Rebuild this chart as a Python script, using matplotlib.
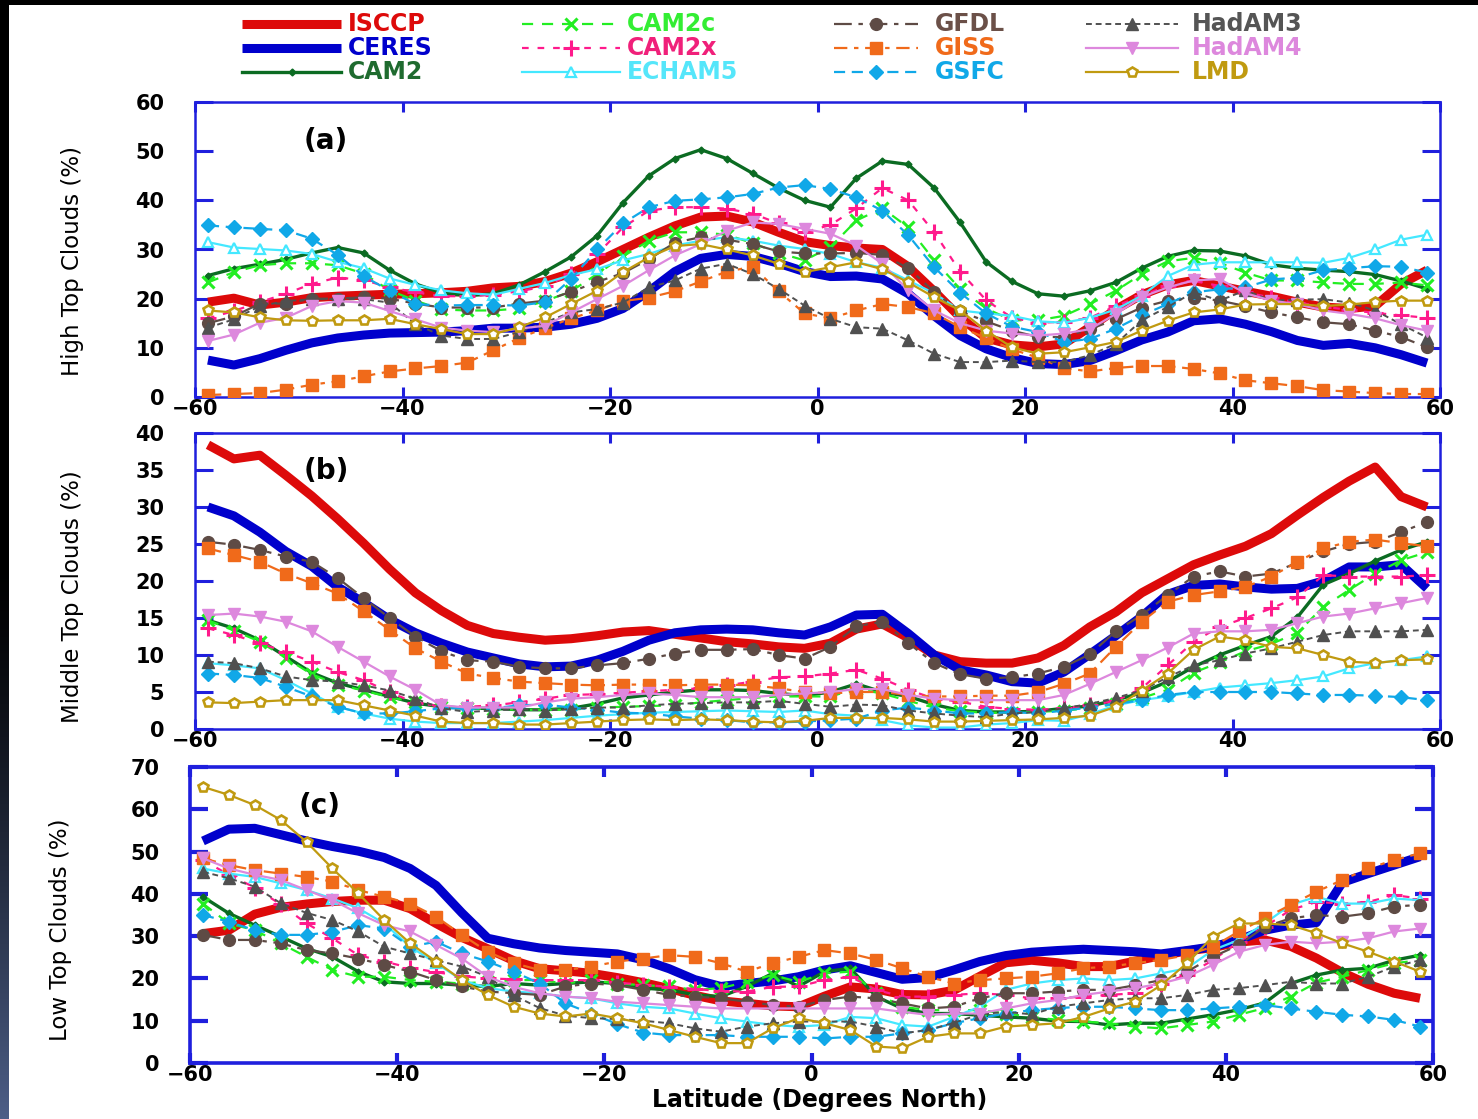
import numpy as np
import matplotlib
matplotlib.use("Agg")
import matplotlib.pyplot as plt
from matplotlib.lines import Line2D
from matplotlib.patches import Rectangle
from matplotlib import font_manager

# ---------------------------------------------------------------- data
latitude = [-58.75, -56.25, -53.75, -51.25, -48.75, -46.25, -43.75, -41.25,
            -38.75, -36.25, -33.75, -31.25, -28.75, -26.25, -23.75, -21.25,
            -18.75, -16.25, -13.75, -11.25, -8.75, -6.25, -3.75, -1.25,
            1.25, 3.75, 6.25, 8.75, 11.25, 13.75, 16.25, 18.75,
            21.25, 23.75, 26.25, 28.75, 31.25, 33.75, 36.25, 38.75,
            41.25, 43.75, 46.25, 48.75, 51.25, 53.75, 56.25, 58.75]

# (a) high top clouds (%)
isccp_high = [19.3, 20.1, 18.7, 19.3, 20.2, 20.5, 20.7, 20.9, 21.0, 21.2, 21.5, 22.2, 22.5, 23.5, 25.2, 27.5, 30.0, 32.5, 34.8, 36.6, 36.8, 35.6, 33.5, 31.6, 30.8, 30.3, 30.0, 26.5, 21.5, 16.2, 12.0, 10.6, 10.2, 10.8, 14.2, 17.8, 20.8, 22.8, 23.7, 22.6, 21.5, 20.5, 19.3, 18.3, 18.0, 18.5, 23.0, 25.8]
ceres_high = [7.5, 6.5, 7.8, 9.5, 11.0, 12.0, 12.6, 13.0, 13.1, 13.2, 13.5, 14.0, 14.0, 14.2, 14.8, 16.0, 18.0, 21.5, 25.5, 28.2, 29.0, 28.6, 27.2, 25.5, 24.5, 24.6, 24.0, 21.0, 16.5, 12.5, 9.8, 8.0, 6.8, 6.6, 7.4, 9.4, 11.6, 13.2, 15.5, 15.9, 14.8, 13.3, 11.5, 10.5, 10.9, 10.0, 8.6, 6.9]
cam2_high = [24.7, 26.1, 27.0, 28.0, 29.3, 30.4, 29.3, 25.8, 23.0, 21.2, 20.6, 21.0, 22.8, 25.5, 28.5, 32.8, 39.5, 45.0, 48.5, 50.3, 48.5, 45.5, 42.5, 40.0, 38.6, 44.5, 48.0, 47.3, 42.5, 35.5, 27.5, 23.5, 21.0, 20.5, 21.6, 23.3, 26.2, 28.6, 29.8, 29.7, 28.7, 26.9, 26.2, 25.8, 25.5, 24.9, 23.6, 22.0]
cam2c_high = [23.3, 25.4, 26.8, 27.2, 27.2, 26.8, 25.1, 21.7, 19.6, 17.8, 17.6, 17.6, 18.0, 19.5, 21.5, 25.0, 28.6, 31.8, 33.5, 33.5, 33.0, 31.3, 29.3, 27.8, 30.5, 35.9, 38.4, 34.5, 27.8, 22.0, 18.0, 15.6, 15.6, 16.5, 18.9, 21.6, 25.0, 27.6, 28.3, 27.3, 25.3, 23.7, 23.7, 23.3, 23.0, 23.0, 23.3, 22.7]
cam2x_high = [16.0, 17.5, 19.3, 21.0, 23.0, 24.3, 23.8, 22.3, 21.3, 20.5, 20.5, 20.8, 21.5, 22.5, 25.0, 29.0, 34.5, 37.9, 38.6, 38.6, 38.3, 37.3, 35.3, 33.5, 35.0, 38.4, 42.5, 40.0, 33.5, 25.5, 19.7, 16.1, 15.1, 15.3, 16.1, 18.5, 20.6, 22.6, 23.6, 22.6, 21.3, 20.2, 19.2, 18.4, 17.7, 17.1, 16.6, 16.1]
echam5_high = [31.5, 30.4, 30.1, 29.8, 29.1, 27.5, 26.2, 24.1, 22.8, 21.7, 21.1, 20.8, 22.0, 23.2, 24.8, 26.0, 27.8, 29.1, 30.8, 31.8, 32.5, 31.8, 30.8, 30.1, 29.1, 27.4, 26.3, 23.7, 21.1, 17.6, 17.0, 16.5, 15.4, 15.1, 16.1, 17.8, 20.6, 24.6, 26.9, 27.4, 27.4, 27.4, 27.4, 27.3, 28.3, 30.0, 32.0, 33.0]
gfdl_high = [15.0, 16.4, 19.0, 19.0, 20.0, 20.0, 20.3, 20.0, 19.0, 18.2, 18.2, 18.2, 19.0, 19.6, 21.4, 23.4, 25.2, 28.0, 31.4, 32.5, 32.0, 31.1, 29.6, 29.2, 29.2, 29.3, 28.9, 26.2, 21.4, 17.4, 15.4, 13.5, 12.2, 12.2, 13.8, 15.8, 18.2, 19.6, 20.2, 19.6, 18.5, 17.2, 16.2, 15.2, 14.8, 13.5, 12.2, 10.1]
giss_high = [0.4, 0.6, 0.8, 1.5, 2.5, 3.2, 4.2, 5.2, 5.8, 6.3, 7.0, 9.5, 12.0, 14.0, 16.0, 17.6, 19.5, 20.2, 21.5, 23.5, 25.5, 26.5, 21.5, 17.0, 16.0, 17.6, 18.9, 18.3, 17.0, 14.2, 12.0, 9.7, 8.0, 5.9, 5.2, 5.9, 6.3, 6.3, 5.7, 4.8, 3.4, 2.8, 2.2, 1.4, 1.1, 0.8, 0.6, 0.6]
gsfc_high = [34.9, 34.5, 34.2, 33.9, 32.2, 28.9, 24.6, 21.6, 18.9, 18.6, 18.7, 18.7, 18.6, 19.3, 24.0, 30.0, 35.3, 38.6, 39.9, 40.2, 40.6, 41.3, 42.6, 43.1, 42.3, 40.6, 37.9, 32.9, 26.4, 21.2, 17.0, 14.3, 13.2, 11.2, 11.8, 13.9, 16.6, 18.9, 21.3, 21.9, 22.3, 23.9, 24.3, 25.8, 26.2, 26.6, 26.5, 25.3]
hadam3_high = [14.1, 15.8, 18.5, 19.5, 19.9, 19.9, 19.9, 19.2, 14.8, 12.5, 11.8, 11.8, 13.2, 15.2, 17.2, 17.9, 19.2, 22.3, 23.7, 26.1, 27.1, 25.0, 22.0, 18.6, 15.9, 14.2, 13.9, 11.5, 8.8, 7.1, 7.1, 7.4, 7.1, 7.1, 8.5, 10.8, 15.6, 18.3, 21.3, 19.6, 21.7, 19.6, 19.8, 19.9, 19.2, 17.6, 14.8, 12.1]
hadam4_high = [11.4, 12.7, 15.1, 16.1, 18.5, 19.5, 19.2, 17.5, 15.8, 14.1, 13.5, 13.2, 13.9, 14.5, 17.2, 19.9, 22.6, 25.8, 28.8, 31.1, 33.8, 35.5, 35.2, 34.2, 33.2, 30.8, 27.1, 21.7, 17.6, 15.0, 13.5, 12.9, 12.5, 12.9, 13.8, 16.9, 20.3, 22.3, 23.7, 24.0, 21.1, 19.6, 18.9, 17.6, 16.9, 16.0, 14.6, 13.5]
lmd_high = [17.6, 17.2, 16.2, 15.6, 15.5, 15.6, 15.6, 15.9, 14.8, 13.8, 12.8, 12.8, 14.2, 16.2, 18.9, 21.6, 25.4, 28.4, 30.7, 31.1, 30.0, 28.8, 27.1, 25.4, 26.4, 27.4, 26.0, 23.3, 20.3, 17.6, 13.5, 10.1, 8.8, 9.1, 10.1, 11.2, 13.5, 15.5, 17.2, 17.8, 18.8, 18.9, 18.9, 18.5, 18.8, 19.3, 19.6, 19.6]

# (b) middle top clouds (%)
isccp_mid = [38.4, 36.5, 37.0, 34.3, 31.5, 28.4, 25.1, 21.6, 18.4, 16.0, 14.0, 12.9, 12.4, 12.0, 12.2, 12.6, 13.1, 13.3, 12.8, 12.3, 11.8, 11.5, 11.1, 10.9, 11.6, 13.5, 14.2, 12.3, 10.0, 9.1, 8.9, 8.9, 9.6, 11.3, 13.8, 15.8, 18.4, 20.3, 22.2, 23.5, 24.7, 26.4, 28.9, 31.3, 33.5, 35.4, 31.4, 30.0]
ceres_mid = [30.0, 28.8, 26.6, 24.0, 22.0, 19.2, 17.1, 14.8, 13.0, 11.6, 10.4, 9.6, 8.8, 8.4, 8.5, 9.3, 10.5, 12.0, 13.0, 13.4, 13.5, 13.4, 13.0, 12.7, 13.8, 15.4, 15.5, 12.9, 10.0, 8.0, 7.3, 6.4, 6.2, 7.7, 10.1, 12.6, 15.2, 18.2, 19.4, 19.6, 19.2, 18.9, 19.0, 20.0, 21.9, 21.9, 22.2, 19.0]
cam2_mid = [14.7, 13.6, 12.0, 9.8, 7.6, 6.2, 5.3, 4.4, 3.5, 3.0, 2.8, 2.8, 2.6, 2.6, 2.8, 3.4, 4.2, 4.6, 5.0, 5.3, 5.3, 5.2, 4.8, 4.5, 5.0, 6.1, 5.0, 4.4, 3.3, 2.5, 2.3, 2.3, 2.4, 2.8, 3.1, 3.9, 4.9, 6.4, 8.4, 10.0, 11.3, 12.5, 15.1, 19.5, 21.0, 22.7, 24.2, 25.3]
cam2c_mid = [14.7, 13.3, 11.8, 9.6, 7.4, 6.0, 5.2, 4.3, 3.6, 3.0, 2.8, 2.7, 2.6, 2.6, 2.6, 2.9, 3.0, 3.1, 3.2, 3.6, 3.9, 4.2, 4.4, 4.4, 4.4, 5.4, 4.8, 3.8, 2.9, 2.4, 2.2, 2.2, 2.3, 2.5, 2.8, 3.4, 4.2, 5.3, 7.6, 9.0, 10.5, 11.5, 13.0, 16.5, 18.8, 21.0, 22.8, 23.9]
cam2x_mid = [13.6, 12.7, 11.6, 10.4, 9.1, 7.7, 6.6, 5.0, 3.5, 3.1, 3.0, 3.2, 3.6, 4.1, 4.6, 4.7, 4.9, 5.1, 5.3, 5.5, 5.9, 6.4, 7.0, 7.1, 7.5, 8.0, 6.8, 5.3, 4.1, 3.7, 3.0, 2.7, 2.6, 2.8, 3.2, 3.8, 5.5, 8.6, 11.8, 13.8, 15.0, 16.3, 17.8, 20.8, 20.6, 20.6, 20.6, 20.8]
echam5_mid = [8.9, 8.6, 8.2, 6.6, 4.8, 3.0, 2.1, 1.4, 1.0, 0.8, 0.8, 0.8, 1.0, 1.2, 1.5, 1.8, 2.0, 2.2, 2.3, 2.4, 2.5, 2.4, 2.3, 2.5, 2.0, 1.8, 1.2, 0.5, 0.2, 0.2, 0.6, 0.8, 1.2, 1.1, 2.0, 3.2, 3.9, 4.4, 5.0, 5.6, 5.9, 6.2, 6.6, 7.1, 8.2, 8.9, 9.3, 9.8]
gfdl_mid = [25.3, 24.9, 24.2, 23.3, 22.6, 20.4, 17.7, 15.0, 12.5, 10.5, 9.3, 9.1, 8.4, 8.2, 8.2, 8.6, 8.9, 9.5, 10.2, 10.7, 10.7, 10.8, 10.0, 9.5, 11.1, 13.9, 14.5, 11.6, 8.9, 7.4, 6.8, 7.0, 7.5, 8.4, 10.1, 13.2, 15.4, 18.1, 20.6, 21.3, 20.6, 21.0, 22.5, 24.0, 25.0, 25.3, 26.6, 28.0]
giss_mid = [24.4, 23.5, 22.6, 21.0, 19.7, 18.3, 15.9, 13.4, 10.9, 9.1, 7.5, 6.9, 6.4, 6.2, 6.0, 5.9, 6.0, 6.0, 5.9, 6.0, 6.0, 5.9, 5.5, 5.0, 4.8, 5.0, 5.0, 4.6, 4.4, 4.4, 4.5, 4.5, 5.0, 6.1, 7.5, 11.1, 14.5, 17.2, 18.1, 18.6, 19.2, 20.6, 22.6, 24.4, 25.3, 25.6, 25.1, 24.7]
gsfc_mid = [7.5, 7.3, 6.9, 5.7, 4.4, 3.0, 2.1, 2.1, 2.4, 2.8, 2.8, 2.8, 3.2, 3.3, 2.9, 2.6, 2.2, 2.1, 1.7, 1.4, 1.2, 0.9, 0.9, 1.0, 1.2, 1.4, 2.5, 2.9, 2.5, 2.1, 2.1, 2.3, 2.1, 2.5, 2.9, 3.4, 3.9, 4.6, 5.0, 5.0, 5.0, 5.0, 4.8, 4.6, 4.6, 4.5, 4.3, 3.9]
hadam3_mid = [9.1, 8.9, 8.2, 7.1, 6.6, 6.4, 5.9, 5.2, 4.1, 2.8, 2.3, 2.5, 2.7, 2.5, 2.7, 2.9, 2.9, 3.2, 3.4, 3.5, 3.6, 3.6, 3.8, 3.4, 3.0, 3.3, 3.2, 2.5, 2.1, 1.8, 1.6, 2.1, 2.3, 2.8, 3.4, 4.2, 5.2, 7.0, 8.6, 9.3, 10.2, 10.9, 11.8, 12.7, 13.2, 13.2, 13.2, 13.4]
hadam4_mid = [15.4, 15.6, 15.2, 14.5, 13.2, 11.1, 9.1, 7.1, 5.3, 3.2, 2.9, 2.9, 2.9, 3.6, 4.1, 4.3, 4.6, 4.8, 4.6, 4.3, 4.3, 4.3, 4.6, 4.8, 5.0, 5.4, 5.4, 4.6, 4.1, 3.9, 3.9, 3.9, 3.9, 4.6, 6.1, 7.7, 9.3, 11.0, 12.9, 13.2, 13.2, 13.4, 14.3, 15.2, 15.6, 16.3, 17.0, 17.7]
lmd_mid = [3.6, 3.5, 3.7, 3.9, 3.9, 3.9, 3.2, 2.5, 1.8, 1.0, 0.8, 0.8, 0.6, 0.6, 0.8, 1.0, 1.2, 1.3, 1.2, 1.3, 1.2, 1.0, 0.9, 1.1, 1.5, 1.5, 1.5, 1.3, 1.0, 1.0, 1.1, 1.2, 1.3, 1.5, 1.8, 3.0, 5.2, 7.5, 10.7, 12.5, 12.0, 11.1, 10.9, 10.0, 9.1, 8.9, 9.3, 9.4]

# (c) low top clouds (%)
isccp_low = [30.6, 31.4, 35.2, 36.8, 37.6, 38.2, 38.5, 38.5, 36.5, 33.0, 29.7, 27.0, 24.2, 22.3, 21.8, 21.2, 20.2, 19.0, 17.6, 16.0, 14.7, 14.1, 13.5, 13.3, 15.8, 18.0, 17.5, 16.2, 16.1, 17.2, 20.5, 23.7, 24.3, 23.7, 22.8, 22.8, 24.1, 25.4, 26.5, 27.3, 28.6, 29.1, 27.6, 24.8, 21.4, 18.6, 16.5, 15.3]
ceres_low = [52.5, 55.3, 55.5, 54.0, 52.5, 51.2, 50.1, 48.6, 46.0, 42.0, 35.5, 29.5, 28.2, 27.2, 26.6, 26.2, 25.8, 24.4, 22.3, 19.7, 18.1, 18.8, 19.4, 20.4, 22.0, 23.0, 21.4, 19.8, 20.2, 22.0, 24.0, 25.4, 26.2, 26.6, 26.9, 26.6, 26.3, 25.8, 26.6, 27.5, 29.1, 31.4, 32.6, 33.2, 42.7, 44.8, 46.8, 48.8]
cam2_low = [39.3, 35.4, 32.6, 29.9, 27.1, 25.1, 21.6, 19.2, 18.8, 18.8, 18.4, 18.1, 18.8, 18.4, 18.8, 19.2, 18.8, 17.7, 17.3, 16.1, 15.7, 18.1, 21.2, 18.1, 21.6, 22.4, 15.7, 12.9, 11.7, 11.7, 11.3, 10.9, 10.6, 9.9, 9.8, 9.0, 9.4, 9.4, 10.4, 11.4, 12.6, 14.2, 18.8, 20.8, 22.0, 22.4, 24.3, 25.5]
cam2c_low = [37.7, 33.0, 31.4, 28.3, 25.1, 22.0, 20.4, 20.4, 19.6, 19.2, 18.8, 19.2, 19.6, 19.6, 18.8, 19.6, 18.8, 18.4, 18.1, 17.3, 17.7, 19.2, 20.8, 19.2, 21.2, 21.6, 16.5, 13.3, 12.5, 12.5, 12.5, 11.7, 10.9, 10.2, 9.8, 9.4, 8.6, 8.2, 9.0, 9.8, 11.4, 13.0, 15.7, 19.0, 20.4, 22.0, 23.6, 24.3]
cam2x_low = [48.0, 44.5, 41.5, 37.5, 33.0, 29.5, 25.5, 24.0, 22.5, 21.5, 20.5, 20.0, 19.8, 19.6, 19.6, 19.6, 19.0, 18.5, 18.0, 17.5, 17.0, 16.9, 18.0, 18.1, 19.6, 20.4, 17.3, 15.7, 15.7, 16.1, 16.5, 16.1, 15.3, 15.3, 15.7, 16.1, 16.5, 18.8, 20.8, 24.3, 28.7, 32.2, 36.2, 38.1, 37.7, 38.1, 39.7, 38.9]
echam5_low = [46.0, 44.8, 44.0, 42.5, 40.9, 38.9, 36.6, 33.0, 27.5, 23.6, 19.6, 17.7, 16.9, 16.5, 15.7, 15.3, 14.1, 13.3, 12.9, 11.7, 10.6, 9.8, 9.0, 8.6, 9.0, 10.9, 10.6, 9.0, 8.6, 10.9, 13.3, 17.3, 18.8, 19.6, 20.0, 19.6, 20.0, 21.2, 22.4, 26.7, 29.1, 33.0, 37.4, 39.3, 37.7, 37.7, 38.9, 38.5]
gfdl_low = [30.3, 29.1, 29.1, 28.3, 26.7, 25.9, 24.7, 23.2, 21.6, 19.6, 18.1, 16.9, 16.5, 16.1, 18.1, 18.8, 18.4, 17.3, 16.1, 15.7, 15.3, 14.5, 13.7, 13.3, 14.9, 15.7, 15.3, 14.1, 12.9, 13.3, 15.3, 16.5, 16.5, 16.9, 17.3, 17.3, 18.4, 19.6, 21.6, 25.1, 27.9, 32.2, 34.2, 35.0, 34.6, 35.4, 37.0, 37.4]
giss_low = [48.4, 46.8, 45.6, 44.8, 44.0, 42.9, 40.9, 39.3, 37.7, 34.6, 30.3, 26.3, 23.6, 22.0, 22.0, 22.8, 24.0, 24.7, 25.5, 25.1, 23.6, 21.6, 23.6, 25.1, 26.7, 25.9, 24.4, 22.4, 20.4, 18.8, 19.6, 20.0, 20.4, 21.2, 22.4, 22.8, 23.6, 24.4, 25.5, 27.5, 31.1, 34.2, 37.4, 40.5, 43.3, 46.0, 48.0, 49.6]
gsfc_low = [35.0, 33.4, 31.4, 30.3, 30.3, 31.0, 32.6, 31.8, 27.5, 28.7, 25.9, 24.0, 21.6, 18.8, 14.1, 11.7, 9.2, 7.2, 6.6, 6.6, 6.6, 6.2, 6.2, 6.2, 5.8, 6.2, 6.2, 7.0, 7.8, 9.4, 10.6, 11.7, 12.5, 13.0, 13.3, 13.3, 12.9, 12.5, 12.5, 12.9, 13.3, 13.7, 12.9, 12.1, 11.4, 11.0, 10.2, 8.6]
hadam3_low = [45.2, 43.7, 41.7, 37.8, 35.5, 33.8, 31.1, 27.5, 25.9, 24.3, 22.8, 20.4, 16.0, 13.0, 11.2, 10.6, 10.4, 10.0, 9.4, 8.2, 7.4, 8.6, 9.4, 9.8, 9.8, 9.8, 8.6, 7.0, 7.8, 9.5, 11.5, 12.1, 11.5, 13.3, 14.1, 14.9, 15.3, 15.3, 16.1, 17.3, 17.7, 18.4, 19.2, 18.8, 18.8, 20.4, 22.8, 24.3]
hadam4_low = [48.4, 46.0, 44.5, 43.3, 40.9, 38.5, 35.4, 32.6, 31.1, 27.9, 24.7, 20.4, 18.0, 16.5, 15.7, 15.3, 14.5, 14.1, 13.7, 13.3, 12.9, 12.9, 12.9, 12.9, 12.9, 12.9, 12.9, 12.1, 11.4, 11.7, 11.7, 12.9, 14.1, 14.9, 16.1, 16.9, 17.7, 18.8, 20.4, 23.2, 26.3, 27.9, 28.7, 28.3, 28.7, 29.5, 31.1, 31.8]
lmd_low = [65.3, 63.4, 61.0, 57.5, 52.3, 46.0, 40.1, 33.8, 28.3, 24.0, 19.6, 16.1, 13.3, 11.7, 11.0, 11.7, 10.6, 9.4, 7.8, 6.2, 4.7, 4.7, 8.2, 10.6, 9.4, 7.8, 3.9, 3.5, 6.2, 7.0, 7.0, 8.6, 9.0, 9.4, 10.9, 12.9, 14.5, 18.4, 23.6, 29.9, 33.0, 33.0, 32.6, 30.7, 28.3, 26.3, 24.0, 21.6]

names = ["ISCCP", "CERES", "CAM2", "CAM2c", "CAM2x", "ECHAM5",
         "GFDL", "GISS", "GSFC", "HadAM3", "HadAM4", "LMD"]
high_series = [isccp_high, ceres_high, cam2_high, cam2c_high, cam2x_high, echam5_high,
               gfdl_high, giss_high, gsfc_high, hadam3_high, hadam4_high, lmd_high]
mid_series = [isccp_mid, ceres_mid, cam2_mid, cam2c_mid, cam2x_mid, echam5_mid,
              gfdl_mid, giss_mid, gsfc_mid, hadam3_mid, hadam4_mid, lmd_mid]
low_series = [isccp_low, ceres_low, cam2_low, cam2c_low, cam2x_low, echam5_low,
              gfdl_low, giss_low, gsfc_low, hadam3_low, hadam4_low, lmd_low]

x_ticks = [-60, -40, -20, 0, 20, 40, 60]

# ---------------------------------------------------------------- styles
styles = {
    "ISCCP":  dict(color="#DD0A0A", lw=6.5, ls="-", marker=None, solid_capstyle="butt"),
    "CERES":  dict(color="#0000CC", lw=6.5, ls="-", marker=None, solid_capstyle="butt"),
    "CAM2":   dict(color="#0B6B22", lw=2.4, ls="-", marker="D", ms=3.5),
    "CAM2c":  dict(color="#22EE22", lw=1.6, ls=(0, (5, 4)), marker="x", ms=9, mew=2.2),
    "CAM2x":  dict(color="#FF1A8C", lw=1.6, ls=(0, (3, 4)), marker="+", ms=11, mew=2.2),
    "ECHAM5": dict(color="#44E8FF", lw=1.6, ls="-", marker="^", ms=7.5, mew=1.6, mfc="white"),
    "GFDL":   dict(color="#5E4B45", lw=1.6, ls=(0, (8, 3, 2, 3)), marker="o", ms=8.5),
    "GISS":   dict(color="#F06A1A", lw=1.6, ls=(0, (6, 3, 2, 3)), marker="s", ms=8.5),
    "GSFC":   dict(color="#10A8E8", lw=1.6, ls=(0, (5, 3)), marker="D", ms=7),
    "HadAM3": dict(color="#505050", lw=1.4, ls=(0, (3, 2)), marker="^", ms=8.5),
    "HadAM4": dict(color="#DD88DD", lw=1.6, ls="-", marker="v", ms=8.5),
    "LMD":    dict(color="#C09A10", lw=1.6, ls="-", marker="p", ms=7.5, mew=1.9, mfc="white"),
}
text_colors = {
    "ISCCP": "#DD0A0A", "CERES": "#0000CC", "CAM2": "#1F6B2F", "CAM2c": "#33EE33",
    "CAM2x": "#F0207A", "ECHAM5": "#55E6FA", "GFDL": "#6B5048", "GISS": "#F06A1A",
    "GSFC": "#10A8E8", "HadAM3": "#555555", "HadAM4": "#DD88DD", "LMD": "#C09A10",
}

frame_blue = "#1F1FDD"
W, H, DPI = 1478, 1119, 100

plt.rcParams["font.family"] = ["DejaVu Sans"]


def pick_family(candidates):
    for fam in candidates:
        try:
            font_manager.findfont(font_manager.FontProperties(family=fam),
                                  fallback_to_default=False)
            return fam
        except Exception:
            continue
    return "DejaVu Sans"


narrow = pick_family(["Liberation Sans Narrow", "DejaVu Sans"])
narrow_size = 21 if narrow == "Liberation Sans Narrow" else 16.5


def fx(px):
    return px / W


def fy(py):
    return 1.0 - py / H


def rect(l, t, r, b):
    return [l / W, 1 - b / H, (r - l) / W, (b - t) / H]


fig = plt.figure(figsize=(W / DPI, H / DPI), dpi=DPI)
fig.patch.set_facecolor("white")

panels = [
    (rect(195, 102, 1440, 397), high_series, 60, 10, "High Top Clouds (%)", (72, 261), "(a)", (326, 141), 1.8),
    (rect(195, 433, 1440, 729), mid_series, 40, 5, "Middle Top Clouds (%)", (72, 597), "(b)", (326, 471), 1.8),
    (rect(190, 767, 1433, 1063), low_series, 70, 10, "Low Top Clouds (%)", (61, 930), "(c)", (320, 806), 2.6),
]

for box, series, ytop, ystep, ylabel, ylab_pos, tag, tag_pos, frame_w in panels:
    ax = fig.add_axes(box)
    for name, values in zip(names, series):
        st = dict(styles[name])
        z = 2 if name in ("ISCCP", "CERES") else 3
        ax.plot(latitude, values, zorder=z, **st)
    ax.set_xlim(-60, 60)
    ax.set_ylim(0, ytop)
    ax.set_xticks(x_ticks)
    ax.set_yticks(list(range(0, ytop + 1, ystep)))
    ax.tick_params(axis="both", direction="in", colors=frame_blue, width=frame_w + 0.4,
                   top=True, right=True, labelcolor="black", labelsize=15)
    ax.tick_params(axis="y", length=13, pad=22)
    ax.tick_params(axis="x", length=7, pad=1.5)
    for lbl in ax.get_xticklabels() + ax.get_yticklabels():
        lbl.set_fontweight("bold")
    for sp in ax.spines.values():
        sp.set_color(frame_blue)
        sp.set_linewidth(frame_w)
    fig.text(fx(ylab_pos[0]), fy(ylab_pos[1]), ylabel, rotation=90,
             ha="center", va="center", fontsize=narrow_size,
             family=[narrow, "DejaVu Sans"], color="black")
    fig.text(fx(tag_pos[0]), fy(tag_pos[1]), tag, ha="center", va="center",
             fontsize=20, fontweight="bold", color="black")

fig.text(fx(820), fy(1100), "Latitude (Degrees North)", ha="center", va="center",
         fontsize=17, fontweight="bold", color="black")

# ---------------------------------------------------------------- key (4 columns x 3 rows)
key_columns = [(242, 341, 348), (522, 620, 627), (834, 918, 935), (1086, 1178, 1192)]
key_rows = [24, 48, 72]
for i, name in enumerate(names):
    col, row = divmod(i, 3)
    x0, x1, xt = key_columns[col]
    yrow = key_rows[row]
    st = dict(styles[name])
    line = Line2D([fx(x0), fx((x0 + x1) / 2), fx(x1)], [fy(yrow)] * 3,
                  transform=fig.transFigure, markevery=[1], **st)
    fig.add_artist(line)
    fig.text(fx(xt), fy(yrow), name, ha="left", va="center", fontsize=17,
             fontweight="bold", color=text_colors[name])

# ---------------------------------------------------------------- dark frame edges
fig.add_artist(Rectangle((0, 1 - 5 / H), 1, 5 / H, transform=fig.transFigure,
                         facecolor="black", edgecolor="none", zorder=10))
strip = fig.add_axes([0, 0, 9 / W, 1 - 5 / H])
rows = np.linspace(0, 1, 400)
t = np.clip((rows - 0.5) / 0.5, 0, 1) ** 1.3
base = np.array([0.30, 0.37, 0.53])
grad = (t[:, None] * base[None, :])[:, None, :]
strip.imshow(grad, aspect="auto", extent=[0, 1, 0, 1], origin="upper")
strip.set_axis_off()

fig.savefig("out.png", dpi=DPI, facecolor="white")
